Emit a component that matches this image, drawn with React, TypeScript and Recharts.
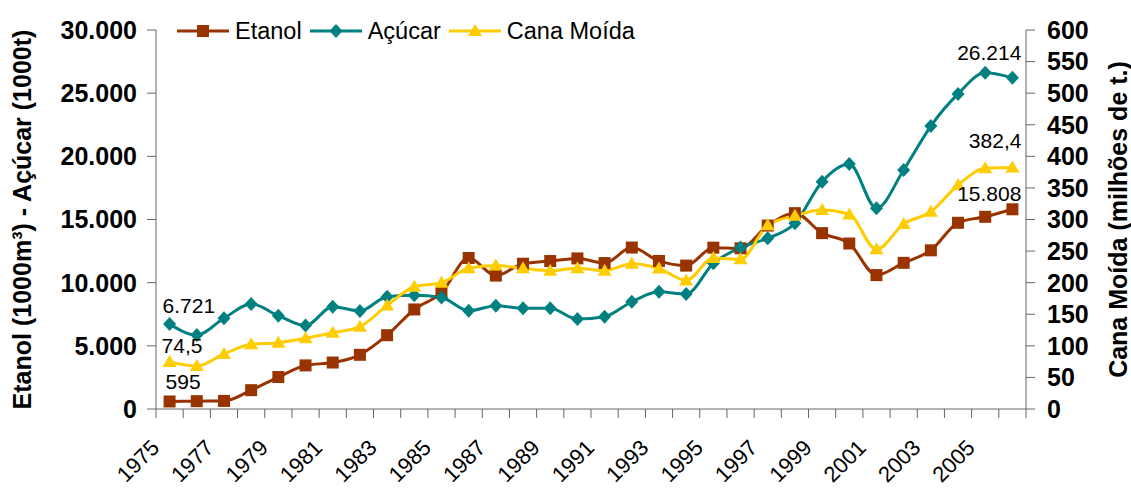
import React from 'react';
import { LineChart, Line, XAxis, YAxis, Legend, LabelList } from 'recharts';

const years = [
  '1975', '1976', '1977', '1978', '1979', '1980', '1981', '1982', '1983', '1984', '1985',
  '1986', '1987', '1988', '1989', '1990', '1991', '1992', '1993', '1994', '1995', '1996',
  '1997', '1998', '1999', '2000', '2001', '2002', '2003', '2004', '2005', '2006',
];

const etanol = [
  595, 620, 640, 1490, 2530, 3450, 3680, 4290, 5840, 7880, 9200,
  11950, 10560, 11500, 11710, 11920, 11550, 12780, 11720, 11350, 12770, 12720,
  14520, 15500, 13920, 13100, 10600, 11570, 12560, 14740, 15215, 15808,
];

const acucar = [
  6721, 5860, 7180, 8310, 7390, 6600, 8100, 7760, 8890, 9000, 8830,
  7780, 8180, 7970, 7970, 7120, 7310, 8490, 9280, 9100, 11530, 12790,
  13510, 14700, 17990, 19390, 15890, 18920, 22400, 24940, 26620, 26214,
];

const cana = [
  74.5, 68.1, 87.1, 102.4, 105, 111.9, 120.8, 130.3, 164, 193.6, 200,
  222.7, 227, 222.7, 219, 223, 219, 230, 222.5, 203.5, 239, 237,
  291, 306, 315, 308, 252.8, 292.9, 312.3, 354.6, 381, 382.4,
];

const leftTicks = [0, 5000, 10000, 15000, 20000, 25000, 30000];
const rightTicks = [0, 50, 100, 150, 200, 250, 300, 350, 400, 450, 500, 550, 600];

const seriesNames = { etanol: 'Etanol', acucar: 'Açúcar', cana: 'Cana Moída' };

const data = years.map((year, i) => ({
  year,
  etanol: etanol[i],
  acucar: acucar[i],
  cana: cana[i],
}));

const W = 1131;
const H = 489;
const PLOT_LEFT = 156;
const PLOT_RIGHT = 1026;
const PLOT_TOP = 30;
const PLOT_BOTTOM = 409;
const STEP = (PLOT_RIGHT - PLOT_LEFT) / years.length;
const FONT = "'Liberation Sans', Arial, Helvetica, sans-serif";
const AXIS_COLOR = '#666666';
const C_ET = '#993300';
const C_AC = '#008080';
const C_CA = '#FFCC00';

const fmtThousands = (v: number) => {
  const s = String(Math.round(v));
  return s.replace(/\B(?=(\d{3})+(?!\d))/g, '.');
};
const fmtDecimal = (v: number) => String(v).replace('.', ',');

const Marker = ({ kind, cx, cy, color }: { kind: string; cx: number; cy: number; color: string }) => {
  if (kind === 'square') {
    return <rect x={cx - 6} y={cy - 6} width={12} height={12} fill={color} />;
  }
  if (kind === 'diamond') {
    return <polygon points={`${cx},${cy - 7} ${cx + 6.5},${cy} ${cx},${cy + 7} ${cx - 6.5},${cy}`} fill={color} />;
  }
  return <polygon points={`${cx},${cy - 7} ${cx + 7},${cy + 5} ${cx - 7},${cy + 5}`} fill={color} />;
};

const makeDot = (kind: string, color: string, prefix: string) => (props: any) => {
  const { cx, cy, index } = props;
  if (cx == null || cy == null) return <g key={`${prefix}-${index}`} />;
  return (
    <g key={`${prefix}-${index}`}>
      <Marker kind={kind} cx={cx} cy={cy} color={color} />
    </g>
  );
};

type LabelCfg = { first: [number, number]; last: [number, number]; fmt: (v: number) => string };

const makeLabel = (cfg: LabelCfg) => (props: any) => {
  const { index, value } = props;
  const x = props.x ?? props.viewBox?.x;
  const y = props.y ?? props.viewBox?.y;
  const lastIdx = years.length - 1;
  if (index !== 0 && index !== lastIdx) return null;
  const isFirst = index === 0;
  const [dx, dy] = isFirst ? cfg.first : cfg.last;
  return (
    <text
      x={x + dx}
      y={y + dy}
      textAnchor={isFirst ? 'start' : 'end'}
      fontSize={21}
      fontFamily={FONT}
      fill="#000"
    >
      {cfg.fmt(Number(value))}
    </text>
  );
};

const XTick = (props: any) => {
  const { x, payload } = props;
  const idx = years.indexOf(String(payload.value));
  const left = x - STEP / 2;
  const lx = x - 9;
  const ly = PLOT_BOTTOM + 40;
  return (
    <g>
      <line x1={left} x2={left} y1={PLOT_BOTTOM} y2={PLOT_BOTTOM + 9} stroke={AXIS_COLOR} />
      {idx === years.length - 1 && (
        <line x1={x + STEP / 2} x2={x + STEP / 2} y1={PLOT_BOTTOM} y2={PLOT_BOTTOM + 9} stroke={AXIS_COLOR} />
      )}
      {idx % 2 === 0 && (
        <text
          x={lx}
          y={ly}
          transform={`rotate(-45 ${lx} ${ly})`}
          textAnchor="end"
          fontSize={22}
          fontFamily={FONT}
          fill="#000"
        >
          {payload.value}
        </text>
      )}
    </g>
  );
};

const midY = (PLOT_TOP + PLOT_BOTTOM) / 2;

const LeftTitle = () => (
  <text
    x={22}
    y={midY}
    transform={`rotate(-90 22 ${midY})`}
    textAnchor="middle"
    dominantBaseline="central"
    fontSize={25}
    fontWeight="bold"
    fontFamily={FONT}
    fill="#000"
  >
    Etanol (1000m³) - Açúcar (1000t)
  </text>
);

const RightTitle = () => (
  <text
    x={1118}
    y={midY}
    transform={`rotate(-90 1118 ${midY})`}
    textAnchor="middle"
    dominantBaseline="central"
    fontSize={25}
    fontWeight="bold"
    fontFamily={FONT}
    fill="#000"
  >
    Cana Moída (milhões de t.)
  </text>
);

const legendItems = [
  { name: seriesNames.etanol, color: C_ET, kind: 'square' },
  { name: seriesNames.acucar, color: C_AC, kind: 'diamond' },
  { name: seriesNames.cana, color: C_CA, kind: 'triangle' },
];

const LegendContent = () => (
  <div
    style={{
      display: 'flex',
      alignItems: 'center',
      fontFamily: FONT,
      fontSize: 23.5,
      height: 28,
      whiteSpace: 'nowrap',
      color: '#000',
    }}
  >
    {legendItems.map((it) => (
      <div key={it.name} style={{ display: 'flex', alignItems: 'center', marginRight: 8 }}>
        <svg width={52} height={20} style={{ display: 'block' }}>
          <line x1={0} y1={10} x2={52} y2={10} stroke={it.color} strokeWidth={3} />
          <Marker kind={it.kind} cx={26} cy={10} color={it.color} />
        </svg>
        <span style={{ marginLeft: 6, lineHeight: '28px' }}>{it.name}</span>
      </div>
    ))}
  </div>
);

const tickStyle = { fill: '#000', fontSize: 25, fontWeight: 'bold', fontFamily: FONT };

export default function App() {
  return (
    <div style={{ position: 'absolute', left: 0, top: 0, width: W, height: H, background: '#fff' }}>
      <LineChart
        width={W}
        height={H}
        data={data}
        margin={{ top: PLOT_TOP, right: 0, bottom: 0, left: 0 }}
      >
        <XAxis
          dataKey="year"
          xAxisId="x"
          height={H - PLOT_BOTTOM}
          interval={0}
          tickLine={false}
          axisLine={{ stroke: AXIS_COLOR }}
          tick={<XTick />}
          padding={{ left: STEP / 2, right: STEP / 2 }}
        />
        <YAxis
          yAxisId="left"
          orientation="left"
          width={PLOT_LEFT}
          domain={[0, 30000]}
          ticks={leftTicks}
          interval={0}
          tickSize={9}
          tickMargin={10}
          tickLine={{ stroke: AXIS_COLOR }}
          axisLine={{ stroke: AXIS_COLOR }}
          tick={tickStyle}
          tickFormatter={(v: number) => fmtThousands(v)}
          label={<LeftTitle />}
        />
        <YAxis
          yAxisId="right"
          orientation="right"
          width={W - PLOT_RIGHT}
          domain={[0, 600]}
          ticks={rightTicks}
          interval={0}
          tickSize={9}
          tickMargin={12}
          tickLine={{ stroke: AXIS_COLOR }}
          axisLine={{ stroke: AXIS_COLOR }}
          tick={tickStyle}
          label={<RightTitle />}
        />
        <Legend
          layout="vertical"
          align="center"
          verticalAlign="middle"
          wrapperStyle={{ top: 17, left: 177, width: 540, height: 28 }}
          content={() => <LegendContent />}
        />
        <Line
          xAxisId="x"
          yAxisId="left"
          name={seriesNames.etanol}
          dataKey="etanol"
          type="monotone"
          stroke={C_ET}
          strokeWidth={3}
          dot={makeDot('square', C_ET, 'et')}
          activeDot={false}
          isAnimationActive={false}
        >
          <LabelList dataKey="etanol" content={makeLabel({ first: [-4, -12], last: [9, -8], fmt: fmtThousands })} />
        </Line>
        <Line
          xAxisId="x"
          yAxisId="left"
          name={seriesNames.acucar}
          dataKey="acucar"
          type="monotone"
          stroke={C_AC}
          strokeWidth={3}
          dot={makeDot('diamond', C_AC, 'ac')}
          activeDot={false}
          isAnimationActive={false}
        >
          <LabelList dataKey="acucar" content={makeLabel({ first: [-7, -11], last: [9, -18], fmt: fmtThousands })} />
        </Line>
        <Line
          xAxisId="x"
          yAxisId="right"
          name={seriesNames.cana}
          dataKey="cana"
          type="monotone"
          stroke={C_CA}
          strokeWidth={3}
          dot={makeDot('triangle', C_CA, 'ca')}
          activeDot={false}
          isAnimationActive={false}
        >
          <LabelList dataKey="cana" content={makeLabel({ first: [-8, -9], last: [9, -19], fmt: fmtDecimal })} />
        </Line>
      </LineChart>
    </div>
  );
}
